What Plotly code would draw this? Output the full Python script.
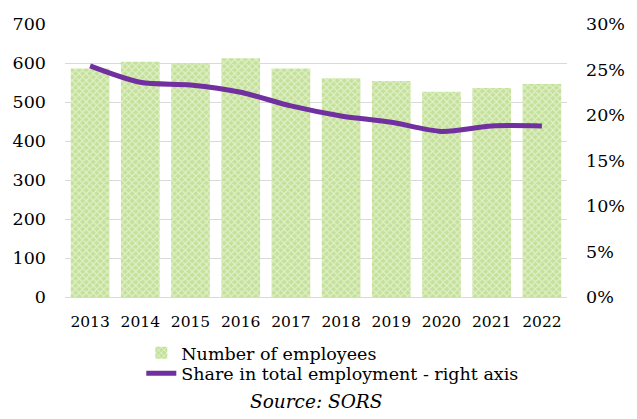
import plotly.graph_objects as go

years = ["2013", "2014", "2015", "2016", "2017", "2018", "2019", "2020", "2021", "2022"]
employees = [586, 603, 599, 612, 586, 561, 554, 526, 536, 546]
share = [0.254, 0.236, 0.233, 0.225, 0.210, 0.199, 0.192, 0.182, 0.188, 0.188]

serif = "DejaVu Serif"
grid = "#D9D9D9"
green = "#C4E199"

fig = go.Figure()
fig.add_trace(go.Bar(
    x=years, y=employees, name="Number of employees",
    marker=dict(
        color=green,
        line=dict(width=0),
        pattern=dict(shape="x", fgcolor="white", bgcolor=green,
                     size=5, solidity=0.4, fillmode="overlay"),
    ),
    yaxis="y", legend="legend", showlegend=True,
))
fig.add_trace(go.Scatter(
    x=years, y=share, name="Share in total employment - right axis",
    mode="lines", line=dict(color="#7030A0", width=5, shape="spline", smoothing=0.8),
    yaxis="y2", legend="legend2", showlegend=True,
))

legend_common = dict(
    xanchor="left", yanchor="middle",
    font=dict(size=17.5, family=serif, color="#000000"),
    bgcolor="rgba(0,0,0,0)", borderwidth=0,
)

fig.update_layout(
    width=637, height=419,
    margin=dict(l=65, r=64, t=24, b=122),
    paper_bgcolor="white", plot_bgcolor="white",
    showlegend=True,
    bargap=0.23,
    font=dict(family=serif, color="#000000"),
    xaxis=dict(
        type="category", showgrid=False, showline=False, ticks="",
        tickfont=dict(size=15.5, family=serif), ticklabelstandoff=13,
    ),
    yaxis=dict(
        range=[0, 700], dtick=100, showgrid=True, gridcolor=grid, gridwidth=1,
        zeroline=True, zerolinecolor=grid, zerolinewidth=1,
        tickfont=dict(size=17.5, family=serif), ticklabelstandoff=18,
    ),
    yaxis2=dict(
        range=[0, 0.3], dtick=0.05, tickformat=".0%", overlaying="y", side="right",
        showgrid=False, zeroline=False,
        tickfont=dict(size=17.5, family=serif), ticklabelstandoff=18,
    ),
    legend=dict(x=0.152, y=-0.205, **legend_common),
    legend2=dict(x=0.152, y=-0.28, **legend_common),
    annotations=[dict(
        text="<i>Source: SORS</i>", x=0.5, y=-0.384, xref="paper", yref="paper",
        xanchor="center", yanchor="middle", showarrow=False,
        font=dict(size=18.5, family=serif),
    )],
)

fig.write_html("out.html")
